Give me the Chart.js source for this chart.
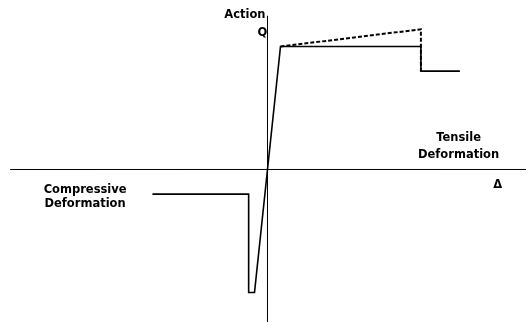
<!DOCTYPE html>
<html lang="en">
<head>
  <meta charset="UTF-8" />
  <title>Action vs Deformation</title>
  <script src="https://cdn.jsdelivr.net/npm/chart.js"></script>
  <style>
    html,body{margin:0;padding:0;background:#fff;}
    #wrap{width:526px;height:322px;position:relative;}
  </style>
</head>
<body>
  <div id="wrap"><canvas id="backbone"></canvas></div>

<script>
  // Backbone curve, normalised: deformation in units of yield deformation, action in units of yield action
  const solidX=[-8.85,-1.45,-1.45,-1.0,1.0,11.8,11.8,14.8];
  const solidY=[-0.2,-0.2,-1.0,-1.0,1.0,1.0,0.8,0.8];
  const dashX=[1.0,11.8,11.8];
  const dashY=[1.0,1.14,0.8];
  // axis extents
  const axisX=[-19.8,19.9];
  const axisY=[-1.25,1.25];
  const xRange=[-20.577,19.885];
  const yRange=[-1.2398,1.378];

  const pts=(xs,ys)=>xs.map((x,i)=>({x:x,y:ys[i]}));
  const line=(data,w,dash)=>({data:data,showLine:true,borderColor:'#000',borderWidth:w,borderDash:dash||[],pointRadius:0,fill:false,tension:0});

  // text labels in data units
  const labels=[
    {t:'Action',x:-0.15,y:1.256,align:'right'},
    {t:'Q',x:-0.4,y:1.11,align:'center'},
    {t:'Tensile',x:14.7,y:0.252,align:'center'},
    {t:'Deformation',x:14.7,y:0.114,align:'center'},
    {t:'\u0394',x:17.7,y:-0.13,align:'center'},
    {t:'Compressive',x:-14.03,y:-0.163,align:'center'},
    {t:'Deformation',x:-14.03,y:-0.277,align:'center'}
  ];

  const textPlugin={id:'txt',afterDatasetsDraw(chart){
    const c=chart.ctx,sx=chart.scales.x,sy=chart.scales.y;
    c.save();c.fillStyle='#000';c.font='bold 11.5px "DejaVu Sans"';c.textBaseline='middle';
    labels.forEach(l=>{c.textAlign=l.align;c.fillText(l.t,sx.getPixelForValue(l.x),sy.getPixelForValue(l.y));});
    c.restore();
  }};

  new Chart(document.getElementById('backbone'),{
    type:'scatter',
    data:{datasets:[
      line(pts(axisX,[0,0]),1),
      line(pts([0,0],axisY),1),
      line(pts(solidX,solidY),1.6),
      line(pts(dashX,dashY),2,[4,2])
    ]},
    options:{responsive:true,maintainAspectRatio:false,animation:false,
      layout:{padding:0},
      plugins:{legend:{display:false},tooltip:{enabled:false}},
      scales:{x:{type:'linear',display:false,min:xRange[0],max:xRange[1]},
              y:{type:'linear',display:false,min:yRange[0],max:yRange[1]}}},
    plugins:[textPlugin]
  });
</script>
</body>
</html>
